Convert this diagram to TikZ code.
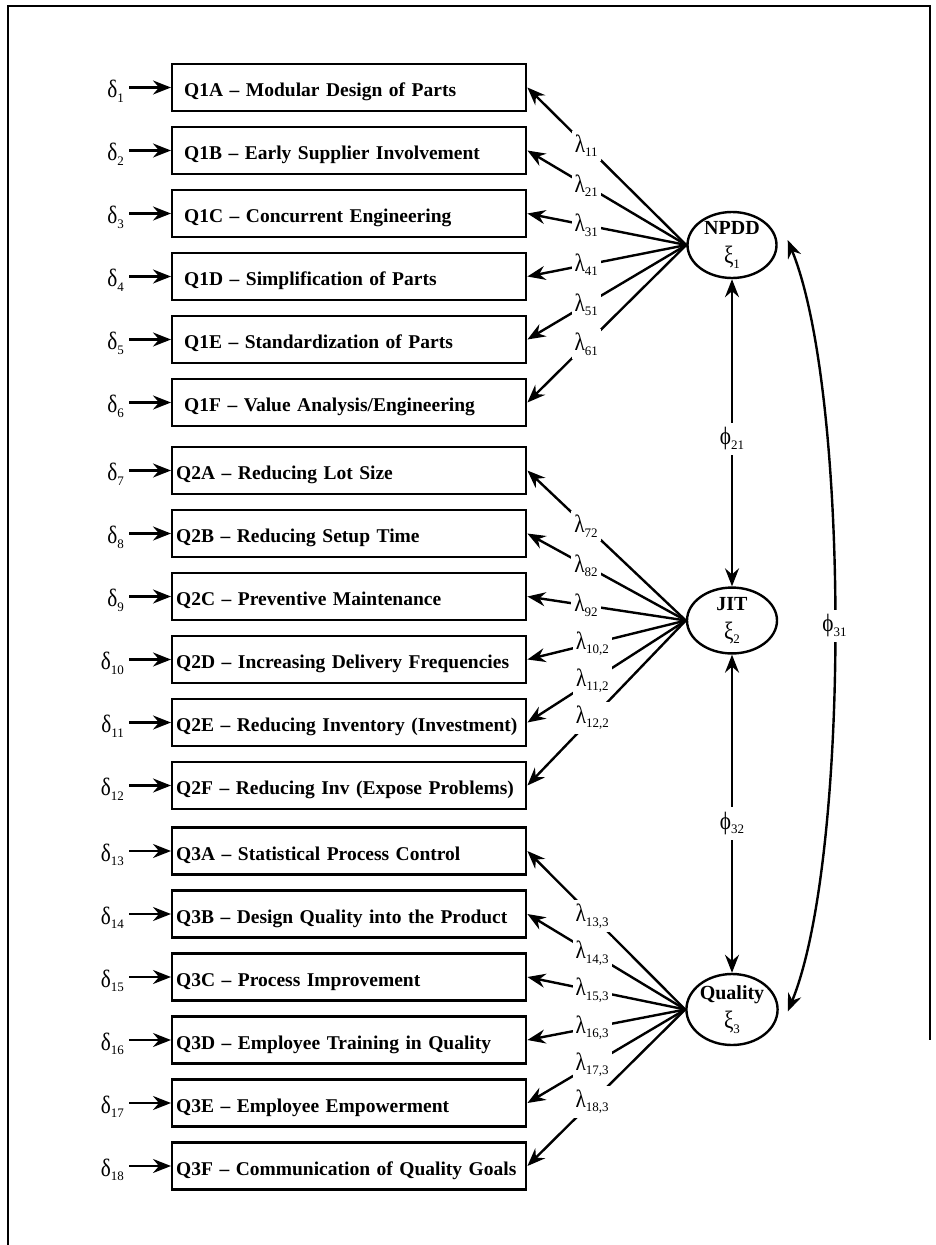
\documentclass[tikz,border=0pt]{standalone}
\usepackage{fontspec}
\usepackage{graphicx}
\setmainfont{Liberation Serif}
\usetikzlibrary{arrows.meta,shapes.geometric}
\newcommand\sbs[1]{\raisebox{-4.5pt}{\fontsize{13}{14}\selectfont #1}}
\newcommand\gk[1]{\scalebox{0.85}[1]{\fontsize{25}{26}\selectfont #1}}
\begin{document}
\begin{tikzpicture}[x=1pt,y=-1pt,
  every node/.style={inner sep=0pt},
  tip/.tip={Stealth[length=18pt,width=14pt,inset=6pt]},
  arr/.style={-tip, line width=2.4pt},
  arrr/.style={tip-tip, line width=2.4pt},
  qbox/.style={draw, line width=2.4pt, minimum height=47pt, anchor=west, align=left,
    font=\fontsize{19.5}{22}\selectfont\bfseries, text height=22pt, text depth=3.6pt},
  qboxA/.style={qbox, text width=330pt, inner xsep=12pt},
  qboxB/.style={qbox, text width=346pt, inner xsep=4pt},
  dlab/.style={anchor=base east},
  lab/.style={fill=white, inner xsep=3pt, inner ysep=4pt},
  philab/.style={fill=white, inner xsep=3pt, inner ysep=5pt},
  lat/.style={ellipse, draw, line width=2.4pt, align=center, font=\fontsize{20}{27}\selectfont}
]
\useasboundingbox (0,0) rectangle (936,1245);
\draw[line width=2pt] (8,1245) -- (8,6) -- (930,6) -- (930,1040);

% latent variables
\node[lat, minimum width=89pt, minimum height=66pt] (npdd) at (732,245) {\textbf{NPDD}\\[2pt]\gk{ξ}\sbs{1}};
\node[lat, minimum width=90pt, minimum height=62pt] (jit) at (732,620.5) {\textbf{JIT}\\[2pt]\gk{ξ}\sbs{2}};
\node[lat, minimum width=91pt, minimum height=71pt] (qual) at (732,1009.5) {\textbf{Quality}\\[2pt]\gk{ξ}\sbs{3}};

% group 1
\foreach \n/\y/\t/\l/\p in {
  1/87.5/{Q1A – Modular Design of Parts}/11/0.63,
  2/150.5/{Q1B – Early Supplier Involvement}/21/0.63,
  3/213.5/{Q1C – Concurrent Engineering}/31/0.63,
  4/276.5/{Q1D – Simplification of Parts}/41/0.63,
  5/339.5/{Q1E – Standardization of Parts}/51/0.63,
  6/402.5/{Q1F – Value Analysis/Engineering}/61/0.63}{
  \node[qboxA] (q\n) at (171,\y) {\mbox{\t}};
  \node[dlab] (d\n) at (124,{\y+10}) {\gk{δ}\sbs{\n}};
  \draw[arr, shorten <=5pt] (d\n.east |- q\n.west) -- (q\n.west);
  \draw[arr] (npdd.west) -- node[lab, pos=\p] {\gk{λ}\sbs{\l}} (q\n.east);
}
% group 2
\foreach \n/\y/\t/\l/\p in {
  7/470.5/{Q2A – Reducing Lot Size}/72/0.63,
  8/533.5/{Q2B – Reducing Setup Time}/82/0.63,
  9/596.5/{Q2C – Preventive Maintenance}/92/0.63,
  10/659.5/{Q2D – Increasing Delivery Frequencies}/{10,2}/0.59,
  11/722.5/{Q2E – Reducing Inventory (Investment)}/{11,2}/0.59,
  12/785.5/{Q2F – Reducing Inv (Expose Problems)}/{12,2}/0.59}{
  \node[qboxB] (q\n) at (171,\y) {\mbox{\t}};
  \node[dlab] (d\n) at (124,{\y+10}) {\gk{δ}\sbs{\n}};
  \draw[arr, shorten <=5pt] (d\n.east |- q\n.west) -- (q\n.west);
  \draw[arr] (jit.west) -- node[lab, pos=\p] {\gk{λ}\sbs{\l}} (q\n.east);
}
% group 3
\foreach \n/\y/\t/\l/\p in {
  13/851/{Q3A – Statistical Process Control}/{13,3}/0.59,
  14/914/{Q3B – Design Quality into the Product}/{14,3}/0.59,
  15/977/{Q3C – Process Improvement}/{15,3}/0.59,
  16/1040/{Q3D – Employee Training in Quality}/{16,3}/0.59,
  17/1103/{Q3E – Employee Empowerment}/{17,3}/0.59,
  18/1166/{Q3F – Communication of Quality Goals}/{18,3}/0.59}{
  \node[qboxB] (q\n) at (171,\y) {\mbox{\t}};
  \node[dlab] (d\n) at (124,{\y+10}) {\gk{δ}\sbs{\n}};
  \draw[arr, shorten <=5pt] (d\n.east |- q\n.west) -- (q\n.west);
  \draw[arr] (qual.west) -- node[lab, pos=\p] {\gk{λ}\sbs{\l}} (q\n.east);
}

% covariances
\draw[arrr] (npdd) -- node[philab, pos=0.52] {\gk{ϕ}\sbs{21}} (jit);
\draw[arrr] (jit) -- node[philab, pos=0.53] {\gk{ϕ}\sbs{32}} (qual);
\coordinate (t31) at ([xshift=10pt,yshift=5pt]npdd.east);
\coordinate (b31) at ([xshift=9pt,yshift=-2pt]qual.east);
\draw[arrr] (t31) .. controls (850,392) and (850,860) .. node[philab, pos=0.5] {\gk{ϕ}\sbs{31}} (b31);
\end{tikzpicture}
\end{document}
